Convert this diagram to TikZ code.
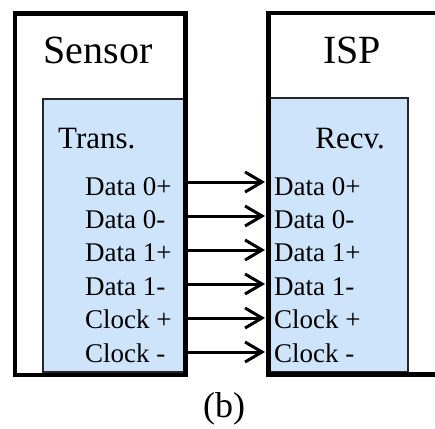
\documentclass[tikz,border=0pt]{standalone}
\usepackage{fontspec}
\setmainfont{Liberation Serif}
\usetikzlibrary{arrows.meta}
\definecolor{boxblue}{RGB}{205,228,250}
\begin{document}
\begin{tikzpicture}[x=1pt,y=-1pt,
  outerbox/.style={draw=black,line width=4.5pt},
  innerbox/.style={draw=black!85,line width=1.6pt,fill=boxblue},
  big/.style={font=\fontsize{40}{48}\selectfont,inner sep=0pt},
  mid/.style={font=\fontsize{31}{37}\selectfont,inner sep=0pt},
  sig/.style={font=\fontsize{27}{32}\selectfont,inner sep=0pt,anchor=base west},
  wire/.style={line width=3pt,-{Straight Barb[length=17pt,width=20pt,line width=3pt]}}]
\useasboundingbox (0,0) rectangle (435,428);
\clip (0,0) rectangle (435,428);
% inner boxes
\node[innerbox,minimum width=141pt,minimum height=273pt,anchor=north west,inner sep=0pt] (trans) at (42,98) {};
\node[innerbox,minimum width=139pt,minimum height=274pt,anchor=north west,inner sep=0pt] (recv) at (268,97) {};
% outer boxes
\node[outerbox,minimum width=170.5pt,minimum height=361pt,anchor=north west,inner sep=0pt] (sensor) at (12.5,11.5) {};
\node[outerbox,minimum width=180pt,minimum height=361pt,anchor=north west,inner sep=0pt] (isp) at (266,11) {};
% titles
\node[big,anchor=base] (tsensor) at (98,63) {Sensor};
\node[big,anchor=base] (tisp) at (352,63) {ISP};
\node[mid,anchor=base west] (ttrans) at (58,148) {Trans.};
\node[mid,anchor=base east] (trecv) at (385,148) {Recv.};
% signal labels
\foreach \i/\t in {0/Data 0+,1/Data 0-,2/Data 1+,3/Data 1-,4/Clock +,5/Clock -}{
  \node[sig] (l\i) at (85,195+33.4*\i) {\t};
  \node[sig] (r\i) at (274,195+33.4*\i) {\t};
  \coordinate (s\i) at (183,182+34*\i);
  \coordinate (d\i) at (265,182+34*\i);
  \draw[wire] (s\i) -- (d\i);
}
\node[font=\fontsize{36}{43}\selectfont,inner sep=0pt,anchor=base] (cap) at (224,417) {(b)};
\end{tikzpicture}
\end{document}
